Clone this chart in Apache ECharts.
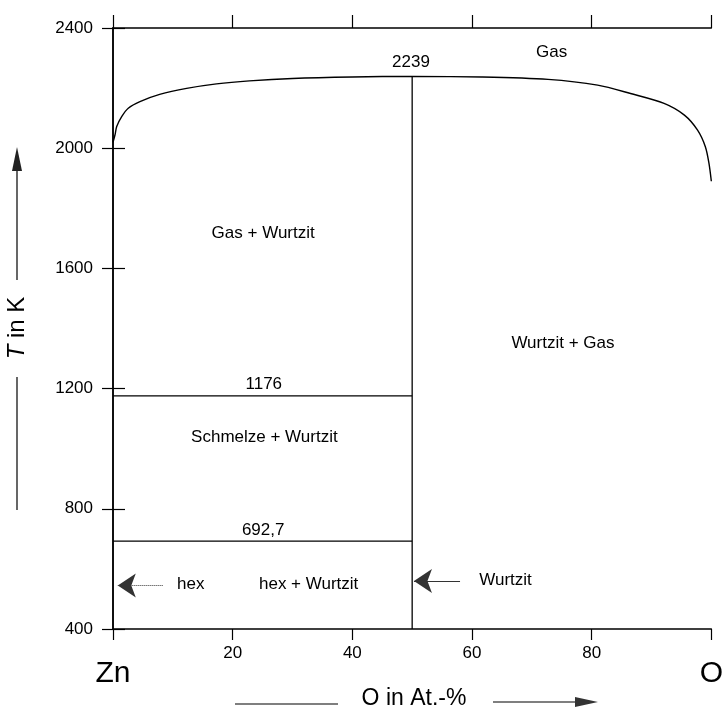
<!DOCTYPE html>
<html>
<head>
<meta charset="utf-8">
<script src="https://cdn.jsdelivr.net/npm/echarts@6/dist/echarts.min.js"></script>
<style>
  html, body { margin: 0; padding: 0; background: #fff; }
  #chart { width: 726px; height: 718px; }
</style>
</head>
<body>
<div id="chart"></div>
<script>
// Zn-O phase diagram: boundary curve (gas / condensed)
const curveO = [0, 0.33, 0.62, 1.45, 2.55, 4.5, 7.8, 12.3, 17.3, 22.8, 30, 40, 50, 61.6, 72.7, 81, 86.5, 92.1, 95.5, 97.7, 99, 99.6, 100];
const curveT = [2020, 2044, 2072, 2105, 2133, 2155, 2179, 2199, 2214, 2224, 2232, 2237, 2239, 2237, 2229, 2210, 2182, 2149, 2110, 2060, 2005, 1950, 1890];

// ZnO compound line and invariant lines
const compoundO = 50;
const compoundT = [400, 2239];
const invariantT = [1176, 692.7];

// field labels: [O at.-%, T, text]
const fieldLabels = [
  [73.3, 2320, 'Gas'],
  [49.8, 2287, '2239'],
  [25.1, 1718, 'Gas + Wurtzit'],
  [75.2, 1352, 'Wurtzit + Gas'],
  [25.2, 1215, '1176'],
  [25.3, 1039, 'Schmelze + Wurtzit'],
  [25.1, 727, '692,7'],
  [13, 550, 'hex'],
  [32.7, 550, 'hex + Wurtzit'],
  [65.6, 561, 'Wurtzit']
];

// pointer arrows: [fromO, toO, T, dotted]
const pointers = [
  [8.3, 0.8, 545, true],
  [58, 50.3, 560, false]
];

const xTicks = [0, 20, 40, 60, 80, 100];
const yTicks = [400, 800, 1200, 1600, 2000, 2400];

const FONT = 'Liberation Sans, Arial, sans-serif';
const INK = '#000';

const chart = echarts.init(document.getElementById('chart'));

const axisBase = {
  type: 'value',
  axisLine: { show: true, lineStyle: { color: INK, width: 1.5 } },
  axisTick: { show: true, inside: false, length: 11, lineStyle: { color: INK, width: 1.2 } },
  splitLine: { show: false }
};

const curveData = curveO.map((o, i) => [o, curveT[i]]);

const option = {
  animation: false,
  backgroundColor: '#fff',
  grid: { left: 113, right: 12, top: 28, bottom: 89 },
  xAxis: [
    Object.assign({}, axisBase, {
      position: 'bottom',
      min: xTicks[0], max: xTicks[xTicks.length - 1], interval: 20,
      axisLabel: {
        margin: 16, color: INK, fontSize: 17, fontFamily: FONT,
        formatter: v => v === 0 ? '{big|Zn}' : (v === 100 ? '{big|O}' : String(v)),
        rich: { big: { fontSize: 30, fontFamily: FONT, color: INK, padding: [14, 0, 0, 0] } }
      }
    }),
    Object.assign({}, axisBase, {
      position: 'top',
      min: xTicks[0], max: xTicks[xTicks.length - 1], interval: 20,
      axisTick: { show: true, inside: false, length: 13, lineStyle: { color: INK, width: 1.2 } },
      axisLabel: { show: false }
    })
  ],
  yAxis: [
    Object.assign({}, axisBase, {
      position: 'left',
      min: yTicks[0], max: yTicks[yTicks.length - 1], interval: 400,
      axisLabel: { margin: 20, color: INK, fontSize: 17, fontFamily: FONT, formatter: v => String(v) }
    }),
    Object.assign({}, axisBase, {
      position: 'right',
      min: yTicks[0], max: yTicks[yTicks.length - 1], interval: 400,
      axisTick: { show: true, inside: false, length: 12, lineStyle: { color: INK, width: 1.2 } },
      axisLabel: { show: false }
    })
  ],
  series: [
    {
      name: 'boundary',
      type: 'line',
      data: curveData,
      smooth: 0.3,
      symbol: 'none',
      lineStyle: { color: INK, width: 1.4 },
      z: 3
    },
    {
      name: 'ZnO',
      type: 'line',
      data: compoundT.map(t => [compoundO, t]),
      symbol: 'none',
      lineStyle: { color: INK, width: 1.3 }
    },
    {
      name: 'monotectic',
      type: 'line',
      data: [[0, invariantT[0]], [compoundO, invariantT[0]]],
      symbol: 'none',
      lineStyle: { color: INK, width: 1.3 }
    },
    {
      name: 'eutectic',
      type: 'line',
      data: [[0, invariantT[1]], [compoundO, invariantT[1]]],
      symbol: 'none',
      lineStyle: { color: INK, width: 1.3 }
    },
    {
      name: 'pointers',
      type: 'lines',
      coordinateSystem: 'cartesian2d',
      symbol: ['none', 'arrow'],
      symbolSize: [8, 18],
      data: pointers.map(p => ({
        coords: [[p[0], p[2]], [p[1], p[2]]],
        lineStyle: { type: p[3] ? 'dotted' : 'solid' }
      })),
      lineStyle: { color: '#333', width: 1, opacity: 1 }
    },
    {
      name: 'labels',
      type: 'scatter',
      symbolSize: 0,
      itemStyle: { color: INK, opacity: 1 },
      data: fieldLabels.map(l => ({ value: [l[0], l[1]], name: l[2] })),
      label: {
        show: true,
        position: 'inside',
        formatter: p => p.name,
        color: INK,
        opacity: 1,
        textBorderWidth: 0,
        fontSize: 17,
        fontFamily: FONT
      },
      z: 5
    }
  ],
  graphic: [
    // y-axis title with arrow
    { type: 'line', shape: { x1: 17, y1: 280, x2: 17, y2: 166 }, style: { stroke: INK, lineWidth: 1.2 } },
    { type: 'polygon', shape: { points: [[17, 147], [12, 171], [22, 171]] }, style: { fill: '#222' } },
    { type: 'line', shape: { x1: 17, y1: 377, x2: 17, y2: 510 }, style: { stroke: INK, lineWidth: 1.2 } },
    {
      type: 'text', x: 17, y: 328, rotation: Math.PI / 2,
      style: {
        text: '{i|T} in K', x: 0, y: 0, align: 'center', verticalAlign: 'middle',
        fill: INK, fontSize: 24, fontFamily: FONT,
        rich: { i: { fontStyle: 'italic', fontSize: 24, fontFamily: FONT, fill: INK } }
      }
    },
    // x-axis title with arrow
    { type: 'line', shape: { x1: 235, y1: 704, x2: 338, y2: 704 }, style: { stroke: INK, lineWidth: 1.2 } },
    { type: 'line', shape: { x1: 493, y1: 702, x2: 578, y2: 702 }, style: { stroke: INK, lineWidth: 1.2 } },
    { type: 'polygon', shape: { points: [[598, 702], [575, 697], [575, 707]] }, style: { fill: '#333' } },
    {
      type: 'text', x: 414, y: 699,
      style: { text: 'O in At.-%', align: 'center', verticalAlign: 'middle', fill: INK, fontSize: 23, fontFamily: FONT }
    }
  ]
};

chart.setOption(option);
</script>
</body>
</html>
